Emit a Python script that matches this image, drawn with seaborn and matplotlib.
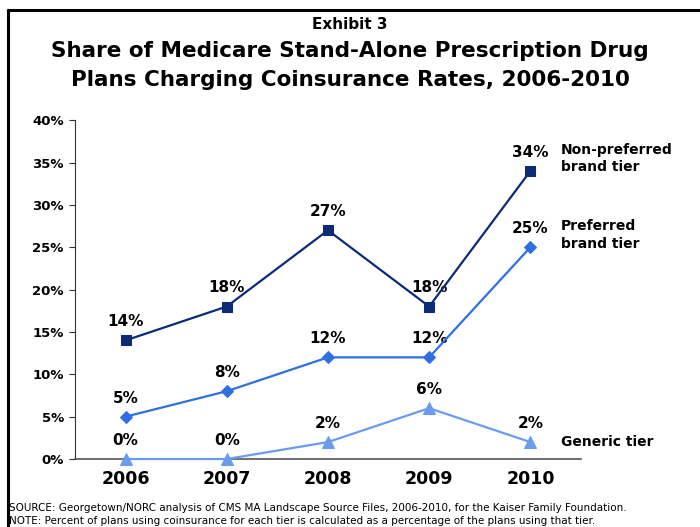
import matplotlib
matplotlib.use("Agg")
import matplotlib.pyplot as plt
import seaborn as sns
import pandas as pd
from matplotlib.lines import Line2D

years = ["2006", "2007", "2008", "2009", "2010"]
non_preferred = [14, 18, 27, 18, 34]
preferred = [5, 8, 12, 12, 25]
generic = [0, 0, 2, 6, 2]
series_names = ["Non-preferred\nbrand tier", "Preferred\nbrand tier", "Generic tier"]
y_ticks = [0, 5, 10, 15, 20, 25, 30, 35, 40]

colors = ["#0B2A78", "#2F6FE4", "#6B9BEF"]
markers = ["s", "D", "^"]
msizes = [7, 6, 8]
name_offsets = [9, 9, 0]

rows = []
for name, vals in zip(series_names, [non_preferred, preferred, generic]):
    for i, (yr, v) in enumerate(zip(years, vals)):
        rows.append({"year": yr, "pos": i, "value": v, "series": name})
df = pd.DataFrame(rows)

sns.set_theme(style="white")
plt.rcParams["font.family"] = ["DejaVu Sans"]
plt.rcParams["text.color"] = "black"
plt.rcParams["xtick.color"] = "black"
plt.rcParams["ytick.color"] = "black"

fig = plt.figure(figsize=(7.0, 5.27), dpi=100)
ax = fig.add_axes([0.107, 0.129, 0.723, 0.643])

for name, c, m, ms, off in zip(series_names, colors, markers, msizes, name_offsets):
    sub = df[df["series"] == name]
    sns.lineplot(data=sub, x="pos", y="value", ax=ax, color=c, marker=m,
                 markersize=ms, markeredgecolor=c, linewidth=1.6, legend=False,
                 clip_on=False, zorder=5)
    for _, r in sub.iterrows():
        ax.annotate(f"{int(r['value'])}%", (r["pos"], r["value"]),
                    xytext=(0, 8), textcoords="offset points", ha="center",
                    va="bottom", fontsize=11, fontweight="bold", color="black")
    last = sub.iloc[-1]
    ax.annotate(name, (last["pos"], last["value"]), xytext=(22, off),
                textcoords="offset points", ha="left", va="center",
                fontsize=10, fontweight="bold", color="black", linespacing=1.35)

ax.set_xlim(-0.5, 4.5)
ax.set_ylim(0, 40)
ax.set_xticks(range(len(years)))
ax.set_xticklabels(years, fontsize=12.5, fontweight="bold")
ax.set_yticks(y_ticks)
ax.set_yticklabels([f"{t}%" for t in y_ticks], fontsize=9.5, fontweight="bold")
ax.tick_params(axis="y", direction="out", length=4, width=0.8, color="#333333", pad=4, left=True)
ax.tick_params(axis="x", length=0, pad=8)
ax.set_xlabel("")
ax.set_ylabel("")
for s in ["top", "right"]:
    ax.spines[s].set_visible(False)
ax.spines["left"].set_color("#333333")
ax.spines["bottom"].set_color("#555555")
ax.spines["left"].set_linewidth(0.8)
ax.spines["bottom"].set_linewidth(1.2)
ax.set_facecolor("white")

fig.text(0.5, 0.953, "Exhibit 3", ha="center", va="center", fontsize=11, fontweight="bold", color="black")
fig.text(0.5, 0.876, "Share of Medicare Stand-Alone Prescription Drug\nPlans Charging Coinsurance Rates, 2006-2010",
         ha="center", va="center", fontsize=15.5, fontweight="bold", linespacing=1.55, color="black")

fig.text(0.013, 0.037, "SOURCE: Georgetown/NORC analysis of CMS MA Landscape Source Files, 2006-2010, for the Kaiser Family Foundation.",
         ha="left", va="center", fontsize=7.5, family=["Liberation Sans Narrow", "DejaVu Sans"], color="black")
fig.text(0.013, 0.012, "NOTE: Percent of plans using coinsurance for each tier is calculated as a percentage of the plans using that tier.",
         ha="left", va="center", fontsize=7.5, family=["Liberation Sans Narrow", "DejaVu Sans"], color="black")

# frame lines (top and left)
fig.add_artist(Line2D([0.011, 1.0], [0.981, 0.981], transform=fig.transFigure, color="black", linewidth=2.2))
fig.add_artist(Line2D([0.011, 0.011], [0.0, 0.981], transform=fig.transFigure, color="black", linewidth=2.2))

fig.savefig("out.png", dpi=100, facecolor="white")
